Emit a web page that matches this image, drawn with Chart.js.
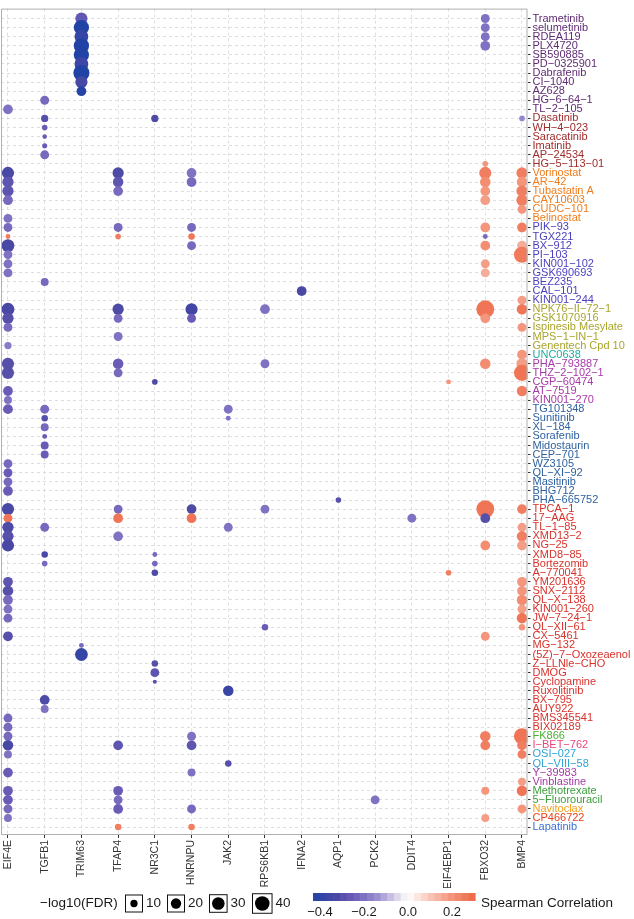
<!DOCTYPE html>
<html>
<head>
<meta charset="utf-8">
<script src="https://cdn.jsdelivr.net/npm/chart.js@4.4.1/dist/chart.umd.min.js"></script>
<style>
  html, body { margin: 0; padding: 0; background: #fff; }
</style>
</head>
<body>
<canvas id="dotplot" width="634" height="919"></canvas>
<script>
// genes on the x axis, drugs on the y axis (top to bottom)
const genes = ["EIF4E", "TGFB1", "TRIM63", "TFAP4", "NR3C1", "HNRNPU", "JAK2", "RPS6KB1",
  "IFNA2", "AQP1", "PCK2", "DDIT4", "EIF4EBP1", "FBXO32", "BMP4"];

const drugs = [
  "Trametinib", "selumetinib", "RDEA119", "PLX4720", "SB590885", "PD-0325901", "Dabrafenib",
  "CI-1040", "AZ628", "HG-6-64-1", "TL-2-105",
  "Dasatinib", "WH-4-023", "Saracatinib", "Imatinib", "AP-24534", "HG-5-113-01",
  "Vorinostat", "AR-42", "Tubastatin A", "CAY10603", "CUDC-101", "Belinostat",
  "PIK-93", "TGX221", "BX-912", "PI-103", "KIN001-102", "GSK690693", "BEZ235", "CAL-101", "KIN001-244",
  "NPK76-II-72-1", "GSK1070916", "Ispinesib Mesylate", "MPS-1-IN-1", "Genentech Cpd 10",
  "UNC0638",
  "PHA-793887", "THZ-2-102-1", "CGP-60474", "AT-7519", "KIN001-270",
  "TG101348", "Sunitinib", "XL-184", "Sorafenib", "Midostaurin", "CEP-701", "WZ3105", "QL-XI-92",
  "Masitinib", "BHG712", "PHA-665752",
  "TPCA-1", "17-AAG", "TL-1-85", "XMD13-2", "NG-25", "XMD8-85", "Bortezomib", "A-770041",
  "YM201636", "SNX-2112", "QL-X-138", "KIN001-260", "JW-7-24-1", "QL-XII-61", "CX-5461", "MG-132",
  "(5Z)-7-Oxozeaenol", "Z-LLNle-CHO", "DMOG", "Cyclopamine", "Ruxolitinib", "BX-795", "AUY922",
  "BMS345541", "BIX02189",
  "FK866", "I-BET-762", "OSI-027", "QL-VIII-58", "Y-39983", "Vinblastine", "Methotrexate",
  "5-Fluorouracil", "Navitoclax", "CP466722", "Lapatinib"
];

// size legend breaks (-log10 FDR) and colour bar ticks (Spearman rho)
const sizeBreaks = [10, 20, 30, 40];
const rhoTicks = [-0.4, -0.2, 0.0, 0.2];

// each hit: [drug, -log10(FDR), Spearman correlation]
const hitsEIF4E = [
  ["TL-2-105", 18, -0.2], ["Vorinostat", 28, -0.33], ["AR-42", 24, -0.28], ["Tubastatin A", 24, -0.28],
  ["CAY10603", 18, -0.22], ["Belinostat", 15, -0.2], ["PIK-93", 15, -0.22], ["TGX221", 4.5, 0.25],
  ["BX-912", 31, -0.33], ["PI-103", 15, -0.2], ["KIN001-102", 15, -0.2], ["GSK690693", 15, -0.2],
  ["NPK76-II-72-1", 31, -0.33], ["GSK1070916", 24, -0.3], ["Ispinesib Mesylate", 15, -0.22],
  ["Genentech Cpd 10", 10, -0.18], ["PHA-793887", 28, -0.3], ["THZ-2-102-1", 28, -0.3],
  ["AT-7519", 18, -0.25], ["KIN001-270", 12, -0.2], ["TG101348", 18, -0.25], ["WZ3105", 15, -0.22],
  ["QL-XI-92", 15, -0.25], ["Masitinib", 15, -0.22], ["BHG712", 18, -0.25], ["TPCA-1", 28, -0.33],
  ["17-AAG", 15, 0.27], ["TL-1-85", 24, -0.32], ["XMD13-2", 24, -0.3], ["NG-25", 28, -0.33],
  ["YM201636", 18, -0.28], ["SNX-2112", 21, -0.3], ["QL-X-138", 18, -0.22], ["KIN001-260", 15, -0.2],
  ["JW-7-24-1", 15, -0.22], ["CX-5461", 18, -0.3], ["BMS345541", 15, -0.22], ["BIX02189", 15, -0.22],
  ["FK866", 15, -0.22], ["I-BET-762", 21, -0.33], ["OSI-027", 12, -0.2], ["Y-39983", 18, -0.25],
  ["Methotrexate", 18, -0.25], ["5-Fluorouracil", 18, -0.25], ["Navitoclax", 15, -0.22],
  ["CP466722", 12, -0.2]
];
const hitsTGFB1 = [
  ["HG-6-64-1", 15, -0.22], ["Dasatinib", 10, -0.3], ["WH-4-023", 6, -0.25], ["Saracatinib", 4, -0.25],
  ["Imatinib", 5, -0.25], ["AP-24534", 15, -0.22], ["BEZ235", 12, -0.22], ["TG101348", 15, -0.22],
  ["Sunitinib", 8, -0.3], ["XL-184", 12, -0.22], ["Sorafenib", 4.5, -0.25], ["Midostaurin", 12, -0.25],
  ["CEP-701", 12, -0.25], ["TL-1-85", 15, -0.22], ["XMD8-85", 8, -0.33], ["Bortezomib", 6, -0.22],
  ["BX-795", 18, -0.32], ["AUY922", 12, -0.2]
];
const hitsTRIM63 = [
  ["Trametinib", 28, -0.27], ["selumetinib", 44, -0.45], ["RDEA119", 36, -0.38], ["PLX4720", 44, -0.45],
  ["SB590885", 44, -0.44], ["PD-0325901", 36, -0.36], ["Dabrafenib", 49, -0.44], ["CI-1040", 28, -0.34],
  ["AZ628", 18, -0.42], ["MG-132", 4.5, -0.22], ["(5Z)-7-Oxozeaenol", 31, -0.38]
];
const hitsTFAP4 = [
  ["Vorinostat", 24, -0.32], ["AR-42", 21, -0.28], ["Tubastatin A", 18, -0.22], ["PIK-93", 15, -0.22],
  ["TGX221", 6, 0.25], ["NPK76-II-72-1", 24, -0.32], ["GSK1070916", 15, -0.22], ["MPS-1-IN-1", 15, -0.2],
  ["PHA-793887", 21, -0.25], ["THZ-2-102-1", 15, -0.22], ["TPCA-1", 15, -0.22], ["17-AAG", 18, 0.27],
  ["XMD13-2", 18, -0.2], ["I-BET-762", 18, -0.28], ["Methotrexate", 18, -0.25],
  ["5-Fluorouracil", 15, -0.22], ["Navitoclax", 18, -0.25], ["Lapatinib", 8, 0.25]
];
const hitsNR3C1 = [
  ["Dasatinib", 10, -0.32], ["CGP-60474", 6, -0.32], ["XMD8-85", 4.5, -0.22], ["Bortezomib", 6, -0.22],
  ["A-770041", 8, -0.32], ["Z-LLNle-CHO", 8, -0.3], ["DMOG", 15, -0.28], ["Cyclopamine", 3, -0.3]
];
const hitsHNRNPU = [
  ["Vorinostat", 18, -0.2], ["AR-42", 18, -0.22], ["PIK-93", 15, -0.22], ["TGX221", 8, 0.27],
  ["BX-912", 15, -0.22], ["NPK76-II-72-1", 28, -0.35], ["GSK1070916", 15, -0.25], ["TPCA-1", 18, -0.32],
  ["17-AAG", 18, 0.27], ["FK866", 15, -0.2], ["I-BET-762", 18, -0.28], ["Y-39983", 12, -0.2],
  ["Navitoclax", 15, -0.22], ["Lapatinib", 8, 0.25]
];
const hitsJAK2 = [
  ["TG101348", 15, -0.2], ["Sunitinib", 4.5, -0.2], ["TL-1-85", 15, -0.2], ["Ruxolitinib", 21, -0.37],
  ["QL-VIII-58", 8, -0.3]
];
const hitsRPS6KB1 = [
  ["NPK76-II-72-1", 18, -0.2], ["PHA-793887", 15, -0.2], ["TPCA-1", 15, -0.2], ["QL-XII-61", 8, -0.25]
];
const hitsIFNA2 = [["CAL-101", 18, -0.33]];
const hitsAQP1 = [["PHA-665752", 6, -0.3]];
const hitsPCK2 = [["5-Fluorouracil", 15, -0.2]];
const hitsDDIT4 = [["17-AAG", 15, -0.2]];
const hitsEIF4EBP1 = [["CGP-60474", 4.5, 0.2], ["A-770041", 6, 0.25]];
const hitsFBXO32 = [
  ["Trametinib", 15, -0.2], ["selumetinib", 15, -0.2], ["RDEA119", 15, -0.2], ["PLX4720", 18, -0.2],
  ["HG-5-113-01", 6, 0.2], ["Vorinostat", 28, 0.25], ["AR-42", 21, 0.22], ["Tubastatin A", 18, 0.2],
  ["CAY10603", 18, 0.18], ["PIK-93", 18, 0.2], ["TGX221", 4.5, -0.22], ["BX-912", 18, 0.22],
  ["KIN001-102", 15, 0.18], ["GSK690693", 15, 0.15], ["NPK76-II-72-1", 60, 0.27], ["GSK1070916", 18, 0.2],
  ["PHA-793887", 21, 0.22], ["TPCA-1", 60, 0.27], ["17-AAG", 18, -0.3], ["NG-25", 18, 0.22],
  ["CX-5461", 15, 0.2], ["FK866", 21, 0.25], ["I-BET-762", 18, 0.25], ["Methotrexate", 12, 0.2],
  ["CP466722", 12, 0.18]
];
const hitsBMP4 = [
  ["Dasatinib", 6, -0.15], ["Vorinostat", 24, 0.25], ["AR-42", 21, 0.2], ["Tubastatin A", 24, 0.25],
  ["CAY10603", 24, 0.25], ["CUDC-101", 15, 0.2], ["PIK-93", 18, 0.25], ["BX-912", 18, 0.15],
  ["PI-103", 49, 0.26], ["KIN001-244", 15, 0.18], ["NPK76-II-72-1", 21, 0.27],
  ["Ispinesib Mesylate", 15, 0.2], ["UNC0638", 18, 0.2], ["PHA-793887", 24, 0.18],
  ["THZ-2-102-1", 49, 0.27], ["AT-7519", 21, 0.25], ["TPCA-1", 18, 0.25], ["TL-1-85", 15, 0.18],
  ["XMD13-2", 21, 0.25], ["NG-25", 18, 0.18], ["YM201636", 18, 0.2], ["SNX-2112", 18, 0.2],
  ["QL-X-138", 21, 0.22], ["KIN001-260", 15, 0.18], ["JW-7-24-1", 21, 0.27], ["QL-XII-61", 8, 0.2],
  ["FK866", 49, 0.27], ["I-BET-762", 18, 0.25], ["OSI-027", 15, 0.25], ["Vinblastine", 12, 0.18],
  ["Methotrexate", 21, 0.27], ["Navitoclax", 15, 0.2]
];

const hitsPerGene = [hitsEIF4E, hitsTGFB1, hitsTRIM63, hitsTFAP4, hitsNR3C1, hitsHNRNPU, hitsJAK2,
  hitsRPS6KB1, hitsIFNA2, hitsAQP1, hitsPCK2, hitsDDIT4, hitsEIF4EBP1, hitsFBXO32, hitsBMP4];

// label colours by drug group (number of consecutive rows, colour)
const groupColours = [
  [11, "#5f2b73"], [6, "#a02c2c"], [6, "#f07c1c"], [9, "#4a3fbf"], [5, "#a9a52d"], [1, "#1fae9e"],
  [5, "#a53aa8"], [11, "#2f619f"], [25, "#d8322c"], [1, "#4caf35"], [1, "#e8467c"], [2, "#2ea4d6"],
  [2, "#a53aa8"], [2, "#3c9e3c"], [1, "#f4a01e"], [1, "#e8431f"], [1, "#3a6fd3"]
];
const labelColours = [];
groupColours.forEach(([n, c]) => { for (let i = 0; i < n; i++) labelColours.push(c); });

// diverging fill scale (blue - white - red)
const colourStops = [
  [-0.43, [33, 67, 166]], [-0.33, [74, 72, 165]], [-0.25, [106, 92, 182]], [-0.15, [150, 136, 206]],
  [-0.05, [222, 214, 236]], [0, [255, 255, 255]], [0.05, [252, 226, 216]], [0.15, [246, 172, 152]],
  [0.25, [241, 126, 96]], [0.31, [237, 100, 66]]
];
function rhoColour(v) {
  if (v <= colourStops[0][0]) return `rgb(${colourStops[0][1].join(",")})`;
  for (let i = 1; i < colourStops.length; i++) {
    const [v1, c1] = colourStops[i];
    const [v0, c0] = colourStops[i - 1];
    if (v <= v1) {
      const t = (v - v0) / (v1 - v0);
      const c = c0.map((a, k) => Math.round(a + (c1[k] - a) * t));
      return `rgb(${c.join(",")})`;
    }
  }
  return `rgb(${colourStops[colourStops.length - 1][1].join(",")})`;
}
const sizeToRadius = (fdr) => 1.15 * Math.sqrt(fdr);
const pretty = (s) => s.replace(/-/g, "\u2212");

// build the bubble points
const points = [];
const fills = [];
hitsPerGene.forEach((hits, g) => {
  hits.forEach(([drug, fdr, rho]) => {
    const row = drugs.indexOf(drug);
    if (row < 0) console.warn("unknown drug", drug);
    points.push({ x: g, y: row, r: sizeToRadius(fdr) });
    fills.push(rhoColour(rho));
  });
});

const FONT = "'Liberation Sans', Arial, Helvetica, sans-serif";

// panel border + the two legends under the plot
const legendPlugin = {
  id: "ggLegend",
  afterDraw(chart) {
    const ctx = chart.ctx;
    const a = chart.chartArea;
    ctx.save();
    ctx.strokeStyle = "#b0b0b0";
    ctx.lineWidth = 1;
    ctx.strokeRect(a.left + 0.5, a.top + 0.5, a.right - a.left - 1, a.bottom - a.top - 1);

    const cy = 903;
    ctx.fillStyle = "#1a1a1a";
    ctx.font = `13.5px ${FONT}`;
    ctx.textBaseline = "middle";
    ctx.textAlign = "left";
    ctx.fillText(pretty("-log10(FDR)"), 40, cy);

    const keyX = [125, 167, 209, 252];
    sizeBreaks.forEach((b, i) => {
      const r = sizeToRadius(b);
      const w = Math.max(17, 2 * r + 5);
      const x0 = keyX[i];
      ctx.strokeStyle = "#111";
      ctx.lineWidth = 1;
      ctx.strokeRect(x0 + 0.5, cy - w / 2 + 0.5, w, w);
      ctx.fillStyle = "#000";
      ctx.beginPath();
      ctx.arc(x0 + w / 2 + 0.5, cy + 0.5, r, 0, Math.PI * 2);
      ctx.fill();
      ctx.fillStyle = "#1a1a1a";
      ctx.fillText(String(b), x0 + w + 4, cy);
    });

    // stepped colour bar
    const barL = 313, barR = 475, barT = 893, barH = 8;
    const vAt = (x) => (x - 408) / 220;
    const nBins = 24;
    const step = (barR - barL) / nBins;
    for (let i = 0; i < nBins; i++) {
      const x = barL + i * step;
      ctx.fillStyle = rhoColour(vAt(x + step / 2));
      ctx.fillRect(x, barT, step + 0.6, barH);
    }
    ctx.fillStyle = "#1a1a1a";
    ctx.textAlign = "center";
    ctx.font = `13px ${FONT}`;
    rhoTicks.forEach((t) => {
      ctx.fillText(pretty(t.toFixed(1)), 408 + t * 220, 912);
    });
    ctx.textAlign = "left";
    ctx.font = `13.5px ${FONT}`;
    ctx.fillText("Spearman Correlation", 481, cy);
    ctx.restore();
  }
};

new Chart(document.getElementById("dotplot"), {
  type: "bubble",
  data: {
    datasets: [{
      data: points,
      backgroundColor: fills,
      borderWidth: 0,
      hoverBorderWidth: 0
    }]
  },
  options: {
    responsive: false,
    devicePixelRatio: 1,
    animation: false,
    events: [],
    layout: { autoPadding: false, padding: { left: 1, top: 2, right: 0, bottom: 31 } },
    plugins: { legend: { display: false }, tooltip: { enabled: false } },
    scales: {
      x: {
        type: "linear",
        position: "bottom",
        min: -0.19,
        max: 14.15,
        afterBuildTicks: (axis) => { axis.ticks = genes.map((_, i) => ({ value: i })); },
        afterFit: (axis) => { axis.height = 53; },
        ticks: {
          autoSkip: false,
          minRotation: 90,
          maxRotation: 90,
          padding: 2,
          color: "#333",
          font: { family: FONT, size: 10.5 },
          callback: (v) => genes[v]
        },
        grid: { color: "#d6d6d6", lineWidth: 0.8, tickLength: 3, tickColor: "#333", tickWidth: 1, tickBorderDash: [] },
        border: { display: false, dash: [3, 3] }
      },
      y: {
        type: "linear",
        position: "right",
        reverse: true,
        min: -1.09,
        max: 89.87,
        afterBuildTicks: (axis) => { axis.ticks = drugs.map((_, i) => ({ value: i })); },
        afterFit: (axis) => { axis.width = 106.5; },
        ticks: {
          autoSkip: false,
          padding: 2,
          font: { family: FONT, size: 11 },
          color: (ctx) => labelColours[ctx.index] || "#333",
          callback: (v) => pretty(drugs[v])
        },
        grid: { color: "#d6d6d6", lineWidth: 0.8, tickLength: 3, tickColor: "#333", tickWidth: 1, tickBorderDash: [] },
        border: { display: false, dash: [3, 3] }
      }
    }
  },
  plugins: [legendPlugin]
});
</script>
</body>
</html>
